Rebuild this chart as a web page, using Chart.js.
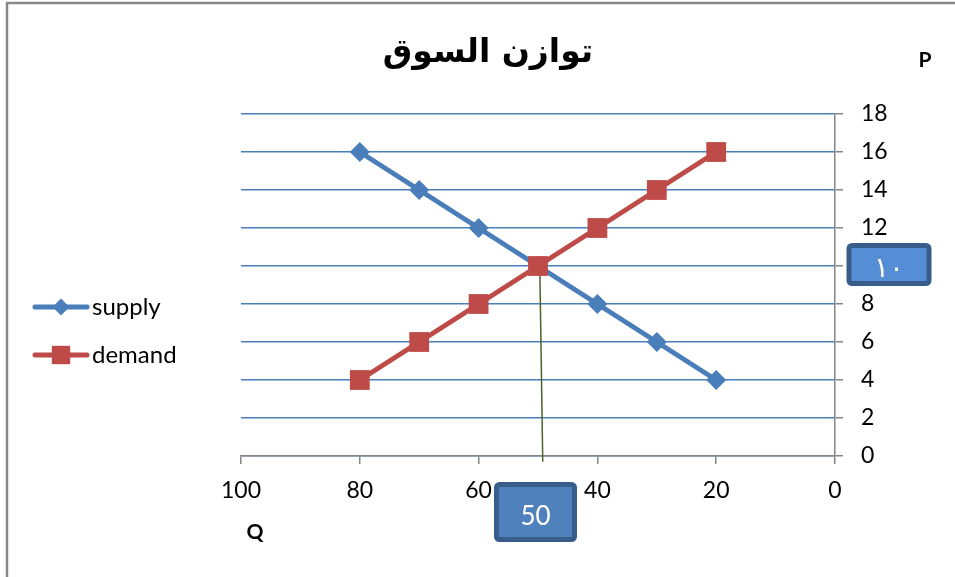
<!DOCTYPE html>
<html><head><meta charset="utf-8">
<script src="https://cdn.jsdelivr.net/npm/chart.js@4.4.0/dist/chart.umd.min.js"></script>
<style>html,body{margin:0;padding:0;background:#fff;overflow:hidden}#wrap{width:955px;height:577px;position:relative}</style>
</head><body><div id="wrap"><canvas id="c" width="955" height="577"></canvas></div>
<script>
// ---- data ----
const quantities = [80, 70, 60, 50, 40, 30, 20];
const supplyPrices = [16, 14, 12, 10, 8, 6, 4];
const demandPrices = [4, 6, 8, 10, 12, 14, 16];
const xTickValues = [100, 80, 60, 40, 20, 0];
const yTickValues = [0, 2, 4, 6, 8, 10, 12, 14, 16, 18];
const dropLineQ = [49.7, 49.2];
const dropLineP = [10, -0.3];
const equilibriumQ = 50;
const equilibriumP = 10;
const titleText = 'توازن السوق';
const seriesNames = ['supply', 'demand'];
const priceBoxLabel = '١٠';
const qtyBoxLabel = '50';
const pAxisLabel = 'P';
const qAxisLabel = 'Q';

const SUPPLY_COLOR = '#4a7ebb';
const DEMAND_COLOR = '#be4b48';
const AXIS_COLOR = '#868686';
const LABEL_FONT = 'Lato';

const toPts = (xs, ys) => xs.map((x, i) => ({ x: x, y: ys[i] }));

function drawMarker(ctx, style, x, y, r, color) {
  ctx.save();
  ctx.fillStyle = color;
  ctx.beginPath();
  if (style === 'rectRot') {
    ctx.moveTo(x - r, y); ctx.lineTo(x, y - r); ctx.lineTo(x + r, y); ctx.lineTo(x, y + r);
  } else {
    const h = r * Math.SQRT1_2;
    ctx.rect(x - h, y - h, 2 * h, 2 * h);
  }
  ctx.closePath();
  ctx.fill();
  ctx.restore();
}

function box(ctx, cx, cy, w, h, fill, text, font, dy) {
  ctx.save();
  ctx.beginPath();
  ctx.roundRect(cx - w / 2 + 2.5, cy - h / 2 + 2.5, w - 5, h - 5, 3);
  ctx.fillStyle = fill;
  ctx.fill();
  ctx.lineWidth = 5;
  ctx.strokeStyle = '#385d8a';
  ctx.stroke();
  ctx.fillStyle = '#ffffff';
  ctx.font = font;
  ctx.textAlign = 'center';
  ctx.textBaseline = 'middle';
  ctx.fillText(text, cx, cy + dy);
  ctx.restore();
}

const decor = {
  id: 'decor',
  beforeDraw(chart) {
    const ctx = chart.ctx;
    ctx.save();
    ctx.fillStyle = '#fff';
    ctx.fillRect(0, 0, chart.width, chart.height);
    ctx.strokeStyle = '#888888';
    ctx.lineWidth = 2.5;
    ctx.beginPath();
    ctx.moveTo(7, chart.height + 5);
    ctx.lineTo(7, 3);
    ctx.lineTo(chart.width + 5, 3);
    ctx.stroke();
    ctx.restore();
  },
  afterDraw(chart) {
    const ctx = chart.ctx;
    const xs = chart.scales.x, ys = chart.scales.y, ca = chart.chartArea;
    ctx.save();
    // title
    ctx.fillStyle = '#000';
    ctx.font = 'bold 33px "DejaVu Sans"';
    ctx.textAlign = 'center';
    ctx.textBaseline = 'middle';
    ctx.fillText(titleText, 488, 53);
    // axis letters
    ctx.font = 'bold 21px ' + LABEL_FONT;
    ctx.fillText(pAxisLabel, 925, 60);
    ctx.fillText(qAxisLabel, 255, 532);
    // legend
    const items = [
      { name: seriesNames[0], color: SUPPLY_COLOR, style: 'rectRot', r: 8.5, y: 307 },
      { name: seriesNames[1], color: DEMAND_COLOR, style: 'rect', r: 13, y: 355 }
    ];
    items.forEach(it => {
      ctx.strokeStyle = it.color;
      ctx.lineWidth = 5;
      ctx.lineCap = 'round';
      ctx.beginPath();
      ctx.moveTo(35, it.y); ctx.lineTo(87, it.y);
      ctx.stroke();
      drawMarker(ctx, it.style, 61, it.y, it.r, it.color);
      ctx.fillStyle = '#000';
      ctx.font = '24px ' + LABEL_FONT;
      ctx.textAlign = 'left';
      ctx.textBaseline = 'middle';
      ctx.fillText(it.name, 92, it.y);
    });
    // value boxes
    box(ctx, ca.right + 54, ys.getPixelForValue(equilibriumP) - 1.5, 85, 43, '#558ed5', priceBoxLabel, '28px "DejaVu Sans"', 5);
    box(ctx, xs.getPixelForValue(equilibriumQ) - 2.5, ca.bottom + 56, 83, 60, '#4f81bd', qtyBoxLabel, '26px ' + LABEL_FONT, 5);
    ctx.restore();
  }
};

const tickFont = { family: LABEL_FONT, size: 23 };

new Chart(document.getElementById('c'), {
  type: 'scatter',
  data: {
    datasets: [
      {
        label: 'drop', data: toPts(dropLineQ, dropLineP), showLine: true,
        borderColor: '#4f6228', borderWidth: 1.5, pointRadius: 0, clip: false, order: 3
      },
      {
        label: seriesNames[0], data: toPts(quantities, supplyPrices), showLine: true,
        borderColor: SUPPLY_COLOR, backgroundColor: SUPPLY_COLOR, borderWidth: 5,
        pointStyle: 'rectRot', pointRadius: 10, pointBorderWidth: 0,
        pointBackgroundColor: SUPPLY_COLOR, clip: false, order: 2
      },
      {
        label: seriesNames[1], data: toPts(quantities, demandPrices), showLine: true,
        borderColor: DEMAND_COLOR, backgroundColor: DEMAND_COLOR, borderWidth: 5,
        pointStyle: 'rect', pointRadius: 14, pointBorderWidth: 0,
        pointBackgroundColor: DEMAND_COLOR, clip: false, order: 1
      }
    ]
  },
  options: {
    responsive: false, animation: false,
    layout: { padding: { left: 241, top: 114, right: 0, bottom: 0 } },
    plugins: { legend: { display: false }, tooltip: { enabled: false }, title: { display: false } },
    scales: {
      x: {
        type: 'linear', reverse: true, min: 0, max: 100,
        afterBuildTicks: s => { s.ticks = xTickValues.map(v => ({ value: v })); },
        afterFit: s => { s.height = 121; },
        grid: { drawOnChartArea: false, color: AXIS_COLOR, lineWidth: 1.5, tickLength: 8 },
        border: { color: AXIS_COLOR, width: 1.5 },
        ticks: { font: tickFont, color: '#000', padding: 13, maxRotation: 0, autoSkip: false }
      },
      y: {
        type: 'linear', position: 'right', min: 0, max: 18,
        afterBuildTicks: s => { s.ticks = yTickValues.map(v => ({ value: v })); },
        afterFit: s => { s.width = 120; },
        grid: { color: SUPPLY_COLOR, lineWidth: 1.5, tickColor: AXIS_COLOR, tickLength: 8 },
        border: { color: AXIS_COLOR, width: 1.5 },
        ticks: { font: tickFont, color: '#000', padding: 18, autoSkip: false }
      }
    }
  },
  plugins: [decor]
});
</script>
</body></html>
